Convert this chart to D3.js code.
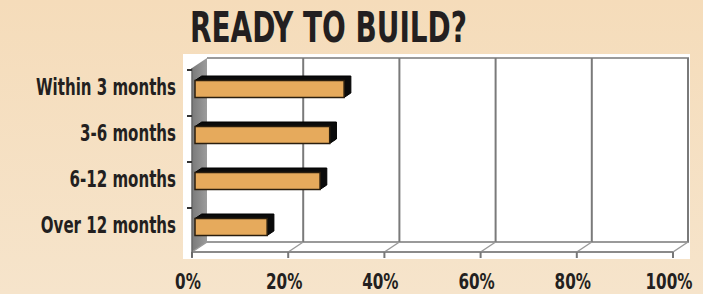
<!DOCTYPE html>
<html>
<head>
<meta charset="utf-8">
<script src="https://cdn.jsdelivr.net/npm/d3@7"></script>
<style>
  body { margin: 0; }
  svg { display: block; }
  text { font-family: "Liberation Sans Narrow", "DejaVu Sans Condensed", "Roboto Condensed", sans-serif; font-weight: bold; fill: #231f20; }
</style>
</head>
<body>
<div id="chart"></div>
<script>
// data
const categories = ["Within 3 months", "3-6 months", "6-12 months", "Over 12 months"];
const values = [31, 28, 26, 15];
const ticks = [0, 20, 40, 60, 80, 100];
const title = "READY TO BUILD?";

const width = 703, height = 294;
// 3d depth offset of the back wall
const dx = 15, dy = -10;

const svg = d3.select("#chart").append("svg")
    .attr("width", width)
    .attr("height", height);

const defs = svg.append("defs");
const bg = defs.append("linearGradient").attr("id", "bg").attr("x1", 0).attr("y1", 0).attr("x2", 0).attr("y2", 1);
bg.append("stop").attr("offset", "0%").attr("stop-color", "#f5dcba");
bg.append("stop").attr("offset", "100%").attr("stop-color", "#f6e4cb");
const wall = defs.append("linearGradient").attr("id", "wall").attr("x1", 0).attr("y1", 0).attr("x2", 1).attr("y2", 0);
wall.append("stop").attr("offset", "0%").attr("stop-color", "#7a7a7a");
wall.append("stop").attr("offset", "100%").attr("stop-color", "#9c9c9c");

svg.append("rect").attr("width", width).attr("height", height).attr("fill", "url(#bg)");

const x = d3.scaleLinear().domain([0, 100]).range([192, 673]);
const y = d3.scaleBand().domain(categories).range([68, 252]);

// point in the 3d box: value, depth (0 front .. 1 back), front-plane y
const P = (v, d, yy) => [x(v) + d * dx, yy + d * dy];

// white plot area
svg.append("rect")
    .attr("x", 183).attr("y", 54)
    .attr("width", 507).attr("height", 205)
    .attr("fill", "#fff");

const yTop = y.range()[0], yBot = y.range()[1];

// side wall
svg.append("polygon")
    .attr("points", [P(0, 0, yTop), P(0, 1, yTop), P(0, 1, yBot), P(0, 0, yBot)].join(" "))
    .attr("fill", "url(#wall)");

// back wall outline + gridlines
svg.append("path")
    .attr("d", d3.line()([P(0, 1, yTop), P(100, 1, yTop), P(100, 1, yBot), P(0, 1, yBot)]))
    .attr("fill", "none").attr("stroke", "#9a9a9a").attr("stroke-width", 2);

svg.selectAll(".grid")
    .data(ticks.slice(1))
    .enter().append("line")
    .attr("class", "grid")
    .attr("x1", d => P(d, 1, yTop)[0]).attr("y1", d => P(d, 1, yTop)[1])
    .attr("x2", d => P(d, 1, yBot)[0]).attr("y2", d => P(d, 1, yBot)[1])
    .attr("stroke", "#7a7a7a").attr("stroke-width", 2);

// floor lines
svg.selectAll(".floor")
    .data(ticks)
    .enter().append("line")
    .attr("class", "floor")
    .attr("x1", d => P(d, 1, yBot)[0]).attr("y1", d => P(d, 1, yBot)[1])
    .attr("x2", d => P(d, 0, yBot)[0]).attr("y2", d => P(d, 0, yBot)[1])
    .attr("stroke", "#9a9a9a").attr("stroke-width", 1.5);

// front axis
svg.append("line")
    .attr("x1", x(0)).attr("x2", x(100)).attr("y1", yBot).attr("y2", yBot)
    .attr("stroke", "#8a8a8a").attr("stroke-width", 2);
svg.selectAll(".xtick")
    .data(ticks)
    .enter().append("line")
    .attr("x1", d => x(d)).attr("x2", d => x(d))
    .attr("y1", yBot).attr("y2", yBot + 6)
    .attr("stroke", "#777").attr("stroke-width", 2);

// left axis
svg.append("line")
    .attr("x1", x(0)).attr("x2", x(0)).attr("y1", yTop).attr("y2", yBot + 5)
    .attr("stroke", "#666").attr("stroke-width", 1.5);
svg.selectAll(".ytick")
    .data(categories)
    .enter().append("line")
    .attr("x1", x(0) - 5).attr("x2", x(0))
    .attr("y1", d => y(d) + 2).attr("y2", d => y(d) + 2)
    .attr("stroke", "#333").attr("stroke-width", 2);

// bars
const barH = 17, dFront = 0.2, dBack = 0.65;
const bars = svg.selectAll(".bar")
    .data(categories.map((c, i) => ({ c, v: values[i] })))
    .enter().append("g").attr("class", "bar");

const yc = d => y(d.c) + y.bandwidth() / 2;
bars.append("polygon")
    .attr("points", d => {
        const t = yc(d) - barH / 2, b = yc(d) + barH / 2;
        return [P(0, dFront, t), P(0, dBack, t), P(d.v, dBack, t), P(d.v, dBack, b), P(d.v, dFront, b), P(d.v, dFront, t)].join(" ");
    })
    .attr("fill", "#0b0b0b").attr("stroke", "#000").attr("stroke-width", 1);
bars.append("rect")
    .attr("x", d => P(0, dFront, 0)[0])
    .attr("y", d => P(0, dFront, yc(d) - barH / 2)[1])
    .attr("width", d => x(d.v) - x(0))
    .attr("height", barH)
    .attr("fill", "#e6aa5c").attr("stroke", "#2a1e0e").attr("stroke-width", 1.5);

// category labels
const labels = svg.selectAll(".ylab")
    .data(categories)
    .enter().append("text")
    .attr("class", "ylab")
    .attr("x", 176)
    .attr("y", d => y(d) + y.bandwidth() / 2 + 4)
    .attr("text-anchor", "end")
    .attr("font-size", 22.5)
    .text(d => d);
const lw = labels.nodes().map(n => n.getComputedTextLength());
const lr = 140 / d3.max(lw);
labels.attr("textLength", (d, i) => lw[i] * lr).attr("lengthAdjust", "spacingAndGlyphs");

// tick labels
const tl = svg.selectAll(".xlab")
    .data(ticks)
    .enter().append("text")
    .attr("class", "xlab")
    .attr("x", d => x(d) - 4)
    .attr("y", 289)
    .attr("text-anchor", "middle")
    .attr("font-size", 21)
    .text(d => d + "%");
const tw = tl.nodes().map(n => n.getComputedTextLength());
const tr = 47 / d3.max(tw);
tl.attr("textLength", (d, i) => tw[i] * tr).attr("lengthAdjust", "spacingAndGlyphs");

// title
const tt = svg.append("text")
    .attr("x", 190).attr("y", 42)
    .attr("font-size", 43)
    .text(title);
tt.attr("textLength", 277).attr("lengthAdjust", "spacingAndGlyphs");
</script>
</body>
</html>
